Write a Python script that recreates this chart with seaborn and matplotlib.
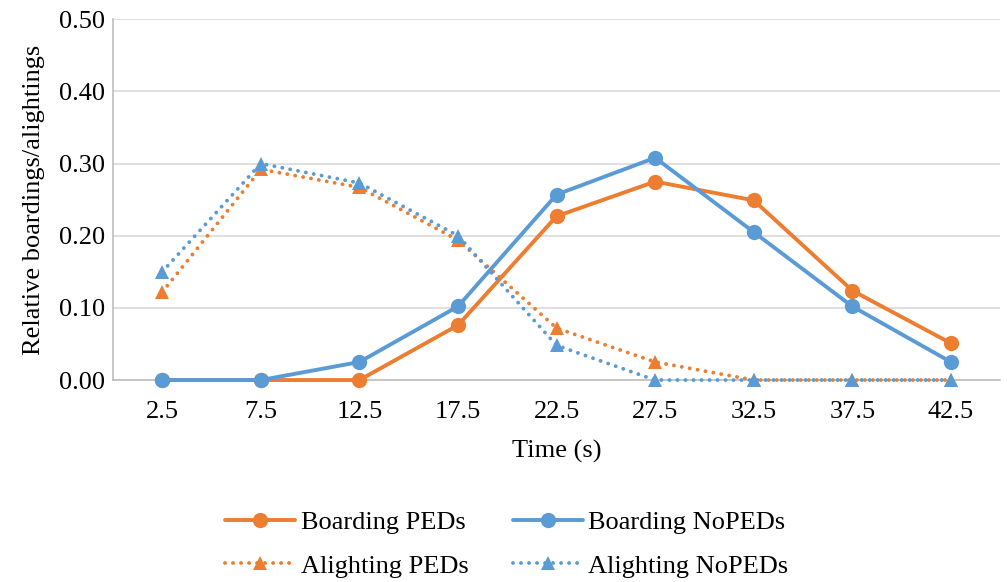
import pandas as pd
import numpy as np
import matplotlib.pyplot as plt
import seaborn as sns

# values
time_labels = ["2.5", "7.5", "12.5", "17.5", "22.5", "27.5", "32.5", "37.5", "42.5"]
boarding_peds = [0.0, 0.0, 0.0, 0.076, 0.227, 0.275, 0.249, 0.124, 0.051]
boarding_nopeds = [0.0, 0.0, 0.025, 0.102, 0.257, 0.308, 0.205, 0.102, 0.025]
alighting_peds = [0.122, 0.292, 0.267, 0.194, 0.072, 0.025, 0.0, 0.0, 0.0]
alighting_nopeds = [0.150, 0.300, 0.273, 0.200, 0.048, 0.0, 0.0, 0.0, 0.0]

ORANGE = "#ED7D31"
BLUE = "#5B9BD5"
FS = 19
DOTS = (0, (0.01, 2.05))

sns.set_style("white", {"text.color": "black", "axes.labelcolor": "black",
                        "xtick.color": "black", "ytick.color": "black"})
plt.rcParams['font.family'] = ['Liberation Serif', 'DejaVu Serif']

fig = plt.figure(figsize=(10.07, 5.82), dpi=100)
ax = fig.add_axes([0.1122, 0.347, 0.881, 0.620])

series = [
    ("Boarding PEDs", boarding_peds, ORANGE, "-", "o", 11),
    ("Boarding NoPEDs", boarding_nopeds, BLUE, "-", "o", 11),
    ("Alighting PEDs", alighting_peds, ORANGE, DOTS, "^", 10.5),
    ("Alighting NoPEDs", alighting_nopeds, BLUE, DOTS, "^", 10.5),
]

for name, vals, col, ls, mk, ms in series:
    df = pd.DataFrame({"Time": time_labels, "Value": vals})
    sns.lineplot(data=df, x="Time", y="Value", ax=ax, color=col, linestyle=ls,
                 marker=mk, markersize=ms, markeredgewidth=0, linewidth=2.8,
                 dash_capstyle="round", label=name, sort=False, clip_on=False,
                 zorder=3)

ax.set_xlim(-0.5, len(time_labels) - 0.5)
ax.set_ylim(0, 0.5)
ax.set_yticks(np.arange(0, 0.51, 0.1))
ax.set_yticklabels([f"{v:.2f}" for v in np.arange(0, 0.51, 0.1)])
ax.grid(axis="y", color="#D9D9D9", linewidth=1.2)
ax.set_axisbelow(True)
for s in ["top", "right"]:
    ax.spines[s].set_visible(False)
ax.spines["left"].set_color("#BFBFBF")
ax.spines["bottom"].set_color("#BFBFBF")
ax.spines["left"].set_linewidth(1.2)
ax.spines["bottom"].set_linewidth(1.2)
ax.tick_params(axis="y", length=0, labelsize=FS, pad=6, labelcolor="black")
ax.tick_params(axis="x", length=0, labelsize=FS, pad=15, labelcolor="black")

ax.set_xlabel("Time (s)", fontsize=FS, labelpad=12, color="black")
ax.set_ylabel("Relative boardings/alightings", fontsize=FS, labelpad=10, color="black")

# row-wise order: matplotlib fills columns first
handles, labels = ax.get_legend_handles_labels()
order = [0, 2, 1, 3]
leg = ax.legend([handles[i] for i in order], [labels[i] for i in order],
                loc="center", bbox_to_anchor=(0.444, -0.455), ncol=2, frameon=False,
                fontsize=FS, handlelength=2.65, columnspacing=1.7, labelspacing=0.75,
                handletextpad=0.2)
for t in leg.get_texts():
    t.set_color("black")

fig.savefig("out.png", dpi=100)
